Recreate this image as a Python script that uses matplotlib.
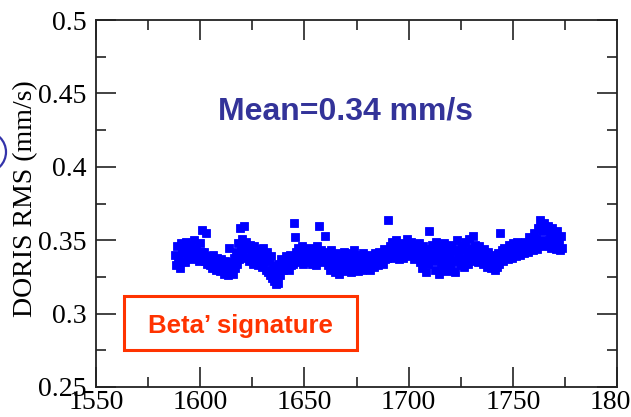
import numpy as np
import matplotlib
matplotlib.use("Agg")
import matplotlib.pyplot as plt
from matplotlib.patches import Rectangle, Ellipse
from matplotlib.ticker import MultipleLocator

# ---- data ----
days_a = np.arange(1588, 1774)            # first point of each day
rms_a = [
    0.340, 0.346, 0.338, 0.348, 0.344, 0.349, 0.341, 0.347, 0.343, 0.350,
    0.345, 0.340, 0.348, 0.357, 0.342, 0.355, 0.339, 0.337, 0.340, 0.336,
    0.338, 0.335, 0.337, 0.334, 0.336, 0.333, 0.345, 0.335, 0.338, 0.342,
    0.348, 0.358, 0.351, 0.360, 0.349, 0.345, 0.347, 0.343, 0.346, 0.341,
    0.344, 0.340, 0.345, 0.338, 0.342, 0.336, 0.339, 0.333, 0.330, 0.328,
    0.334, 0.337, 0.335, 0.339, 0.336, 0.340, 0.338, 0.362, 0.342, 0.345,
    0.340, 0.346, 0.343, 0.339, 0.345, 0.341, 0.344, 0.340, 0.346, 0.360,
    0.343, 0.341, 0.353, 0.342, 0.339, 0.343, 0.337, 0.341, 0.338, 0.340,
    0.336, 0.342, 0.338, 0.341, 0.337, 0.339, 0.343, 0.336, 0.340, 0.338,
    0.341, 0.337, 0.339, 0.336, 0.340, 0.338, 0.341, 0.337, 0.342, 0.340,
    0.344, 0.341, 0.364, 0.346, 0.349, 0.344, 0.350, 0.345, 0.348, 0.343,
    0.347, 0.351, 0.346, 0.349, 0.344, 0.347, 0.345, 0.348, 0.342, 0.346,
    0.340, 0.344, 0.356, 0.347, 0.341, 0.349, 0.343, 0.346, 0.340, 0.348,
    0.342, 0.345, 0.339, 0.347, 0.343, 0.350, 0.341, 0.346, 0.344, 0.349,
    0.342, 0.351, 0.345, 0.353, 0.347, 0.343, 0.346, 0.341, 0.344, 0.339,
    0.342, 0.338, 0.340, 0.337, 0.339, 0.341, 0.355, 0.343, 0.345, 0.342,
    0.347, 0.344, 0.348, 0.345, 0.349, 0.346, 0.348, 0.345, 0.349, 0.347,
    0.352, 0.349, 0.355, 0.351, 0.358, 0.364, 0.356, 0.362, 0.357, 0.360,
    0.354, 0.358, 0.352, 0.356, 0.350, 0.353,
]
days_b = np.arange(1588.5, 1774.0, 1.0)   # second point of each day
rms_b = [
    0.333, 0.336, 0.331, 0.342, 0.335, 0.339, 0.345, 0.337, 0.338, 0.340,
    0.339, 0.336, 0.342, 0.338, 0.336, 0.334, 0.333, 0.331, 0.334, 0.330,
    0.332, 0.329, 0.331, 0.327, 0.329, 0.326, 0.330, 0.327, 0.331, 0.334,
    0.337, 0.343, 0.340, 0.346, 0.338, 0.336, 0.340, 0.334, 0.338, 0.333,
    0.336, 0.332, 0.335, 0.330, 0.328, 0.326, 0.324, 0.322, 0.320, 0.321,
    0.326, 0.330, 0.331, 0.332, 0.330, 0.333, 0.334, 0.352, 0.336, 0.335,
    0.337, 0.334, 0.338, 0.335, 0.336, 0.334, 0.338, 0.333, 0.337, 0.339,
    0.335, 0.337, 0.336, 0.333, 0.330, 0.334, 0.328, 0.331, 0.327, 0.333,
    0.329, 0.332, 0.330, 0.334, 0.328, 0.331, 0.333, 0.329, 0.332, 0.330,
    0.334, 0.331, 0.333, 0.330, 0.334, 0.332, 0.335, 0.333, 0.336, 0.334,
    0.337, 0.338, 0.340, 0.338, 0.340, 0.339, 0.342, 0.337, 0.341, 0.338,
    0.340, 0.343, 0.339, 0.341, 0.337, 0.340, 0.338, 0.335, 0.331, 0.337,
    0.328, 0.334, 0.339, 0.336, 0.330, 0.338, 0.327, 0.335, 0.332, 0.337,
    0.329, 0.334, 0.331, 0.336, 0.328, 0.338, 0.333, 0.335, 0.332, 0.337,
    0.334, 0.339, 0.336, 0.340, 0.338, 0.335, 0.337, 0.334, 0.336, 0.332,
    0.334, 0.331, 0.333, 0.330, 0.332, 0.334, 0.337, 0.336, 0.339, 0.337,
    0.340, 0.338, 0.341, 0.339, 0.342, 0.340, 0.343, 0.341, 0.344, 0.342,
    0.345, 0.343, 0.347, 0.344, 0.348, 0.350, 0.346, 0.349, 0.347, 0.350,
    0.345, 0.348, 0.344, 0.346, 0.343, 0.345,
]
xticks = [1550, 1600, 1650, 1700, 1750, 1800]
yticks = [0.25, 0.3, 0.35, 0.4, 0.45, 0.5]
ytick_labels = ["0.25", "0.3", "0.35", "0.4", "0.45", "0.5"]
mean_text = "Mean=0.34 mm/s"
box_text = "Beta\u2019 signature"

# ---- figure ----
fig = plt.figure(figsize=(6.31, 4.17), dpi=100)
ax = fig.add_axes([96 / 631, 1 - 387 / 417, (617 - 96) / 631, (387 - 20) / 417])

blue = "#0000ff"
ax.plot(days_a, rms_a, ls="none", marker="s", ms=5.8, color=blue, mec=blue, mew=0.6)
ax.plot(days_b, rms_b, ls="none", marker="s", ms=5.8, color=blue, mec=blue, mew=0.6)

ax.set_xlim(1550, 1800)
ax.set_ylim(0.25, 0.5)
ax.set_xticks(xticks)
ax.set_xticklabels([str(v) for v in xticks])
ax.set_yticks(yticks)
ax.set_yticklabels(ytick_labels)
ax.xaxis.set_minor_locator(MultipleLocator(25))
ax.yaxis.set_minor_locator(MultipleLocator(0.025))

serif = "Liberation Serif"
ax.tick_params(which="both", direction="in", top=True, right=True,
               width=1.2, color="#222222")
ax.tick_params(which="major", length=14.5)
ax.tick_params(which="minor", length=7)
ax.tick_params(axis="x", pad=2)
ax.tick_params(axis="y", pad=7)
for lab in ax.get_xticklabels() + ax.get_yticklabels():
    lab.set_fontfamily(serif)
    lab.set_fontsize(20)
for s in ax.spines.values():
    s.set_linewidth(1.3)
    s.set_color("#222222")

ax.set_ylabel("DORIS RMS (mm/s)", fontfamily=serif, fontsize=20)
ax.yaxis.set_label_coords(-0.112, 0.512)

fig.text(345 / 631, 1 - 119 / 417, mean_text, ha="center", va="baseline",
         fontfamily="Liberation Sans", fontweight="bold", fontsize=23,
         color="#333399")

# Red box with text
fig.patches.append(Rectangle((124 / 631, 1 - 350 / 417), (357 - 124) / 631, (350 - 296) / 417,
                             transform=fig.transFigure, fill=False,
                             edgecolor="#ff3300", linewidth=2.2))
fig.text(240 / 631, 1 - 333 / 417, box_text, ha="center", va="baseline",
         fontfamily="Liberation Sans", fontweight="bold", fontsize=18.5,
         color="#ff3300")

# partial blue circle on the left edge (slide annotation)
fig.patches.append(Ellipse((-14.5 / 631, 1 - 152 / 417), 41 / 631, 41 / 417,
                           transform=fig.transFigure, fill=False,
                           edgecolor="#3333aa", linewidth=1.6))

fig.savefig("out.png", dpi=100)
